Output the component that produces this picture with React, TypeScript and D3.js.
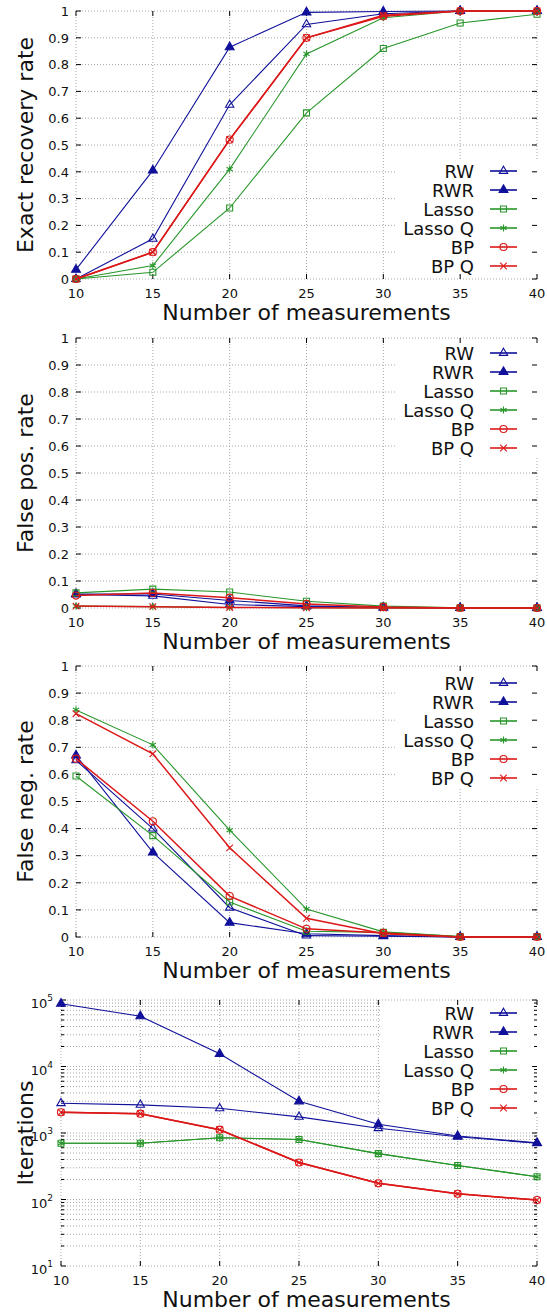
import React from "react";
import * as d3 from "d3";

// x values shared by all four panels
const measurements = [10, 15, 20, 25, 30, 35, 40];
const methodNames = ["RW", "RWR", "Lasso", "Lasso Q", "BP", "BP Q"];

// exact recovery rate
const exactRW = [0.0, 0.15, 0.65, 0.95, 0.99, 1, 1];
const exactRWR = [0.035, 0.405, 0.865, 0.995, 0.998, 1, 1];
const exactLasso = [0.0, 0.025, 0.265, 0.62, 0.86, 0.955, 0.988];
const exactLassoQ = [0.0, 0.05, 0.41, 0.84, 0.975, 1, 1];
const exactBP = [0.0, 0.1, 0.52, 0.9, 0.98, 1, 1];
const exactBPQ = [0.0, 0.1, 0.52, 0.9, 0.984, 1, 1];

// false positive rate
const fpRW = [0.05, 0.045, 0.013, 0.005, 0.002, 0, 0];
const fpRWR = [0.052, 0.052, 0.028, 0.008, 0.002, 0, 0];
const fpLasso = [0.056, 0.07, 0.059, 0.025, 0.007, 0.001, 0];
const fpLassoQ = [0.007, 0.005, 0.002, 0.001, 0, 0, 0];
const fpBP = [0.046, 0.056, 0.038, 0.015, 0.004, 0, 0];
const fpBPQ = [0.007, 0.005, 0.002, 0.001, 0, 0, 0];

// false negative rate
const fnRW = [0.652, 0.4, 0.108, 0.005, 0.003, 0, 0];
const fnRWR = [0.67, 0.312, 0.053, 0.012, 0.005, 0, 0];
const fnLasso = [0.594, 0.374, 0.129, 0.021, 0.017, 0.002, 0.002];
const fnLassoQ = [0.838, 0.709, 0.394, 0.103, 0.019, 0.002, 0.002];
const fnBP = [0.658, 0.427, 0.151, 0.03, 0.015, 0, 0];
const fnBPQ = [0.824, 0.676, 0.329, 0.069, 0.012, 0, 0];

// iterations (log scale)
const itRW = [2800, 2650, 2350, 1750, 1180, 880, 700];
const itRWR = [88000, 57000, 15500, 3000, 1350, 900, 710];
const itLasso = [700, 700, 850, 800, 490, 325, 220];
const itLassoQ = [700, 700, 850, 800, 490, 325, 220];
const itBP = [2050, 1950, 1120, 360, 175, 122, 98];
const itBPQ = [2050, 1950, 1120, 360, 175, 122, 98];

const BLUE = "#10109a";
const GREEN = "#28962a";
const RED = "#dc1818";
const FONT = "DejaVu Sans";

const styles = [
  { color: BLUE, type: d3.symbolTriangle, size: 30, filled: false, width: 1.1 },
  { color: BLUE, type: d3.symbolTriangle, size: 34, filled: true, width: 1.1 },
  { color: GREEN, type: d3.symbolSquare, size: 36, filled: false, width: 1.1 },
  { color: GREEN, type: d3.symbolAsterisk, size: 36, filled: false, width: 1.1 },
  { color: RED, type: d3.symbolCircle, size: 40, filled: false, width: 1.5 },
  { color: RED, type: d3.symbolTimes, size: 30, filled: false, width: 1.5 },
];

const Marker = ({ i, x, y }) => {
  const s = styles[i];
  const d = d3.symbol().type(s.type).size(s.size)();
  return (
    <path
      d={d}
      transform={`translate(${x},${y})`}
      fill={s.filled ? s.color : "none"}
      stroke={s.color}
      strokeWidth={1.1}
    />
  );
};

const Panel = ({ top, bottom, left, right, log, ylabel, series, legendY, legendLeft }) => {
  const xScale = d3.scaleLinear().domain([10, 40]).range([left, right]);
  const yScale = log
    ? d3.scaleLog().domain([10, 1e5]).range([bottom, top])
    : d3.scaleLinear().domain([0, 1]).range([bottom, top]);

  const xTicks = xScale.ticks(6);
  const yTicks = log ? yScale.ticks() : yScale.ticks(10);
  const isMajor = (v) => !log || Math.abs(Math.log10(v) - Math.round(Math.log10(v))) < 1e-9;

  const line = d3
    .line()
    .x((_, i) => xScale(measurements[i]))
    .y((d) => yScale(d));

  return (
    <g fontFamily={FONT}>
      {/* grid */}
      {xTicks.map((t) => (
        <line key={"gx" + t} x1={xScale(t)} x2={xScale(t)} y1={top} y2={bottom}
          stroke="#a8a8a8" strokeDasharray="1,2" />
      ))}
      {yTicks.map((t) => (
        <line key={"gy" + t} x1={left} x2={right} y1={yScale(t)} y2={yScale(t)}
          stroke="#a8a8a8" strokeDasharray="1,2" />
      ))}
      {/* key box hides the grid behind it */}
      <rect x={legendLeft} y={legendY - 12} width={right + 1 - legendLeft} height={5 * 19 + 21} fill="#fff" />
      {/* ticks */}
      {xTicks.map((t) => (
        <g key={"tx" + t} stroke="#000">
          <line x1={xScale(t)} x2={xScale(t)} y1={bottom} y2={bottom - 5} />
          <line x1={xScale(t)} x2={xScale(t)} y1={top} y2={top + 5} />
        </g>
      ))}
      {yTicks.map((t) => {
        const len = isMajor(t) ? 5 : 3;
        return (
          <g key={"ty" + t} stroke="#000">
            <line x1={left} x2={left + len} y1={yScale(t)} y2={yScale(t)} />
            <line x1={right} x2={right - len} y1={yScale(t)} y2={yScale(t)} />
          </g>
        );
      })}
      {/* tick labels */}
      {xTicks.map((t) => (
        <text key={"lx" + t} x={xScale(t)} y={bottom + 19} textAnchor="middle" fontSize={13} fill="#111">
          {t}
        </text>
      ))}
      {yTicks.filter(isMajor).map((t) =>
        log ? (
          <text key={"ly" + t} x={left - 8} y={yScale(t) + 8} textAnchor="end" fontSize={13} fill="#111">
            10
            <tspan dy={-7} fontSize={9}>{Math.round(Math.log10(t))}</tspan>
          </text>
        ) : (
          <text key={"ly" + t} x={left - 7} y={yScale(t) + 4.7} textAnchor="end" fontSize={13} fill="#111">
            {+t.toFixed(1)}
          </text>
        )
      )}
      {/* axis titles */}
      <text x={(76 + 537) / 2} y={bottom + 41} textAnchor="middle" fontSize={22} fill="#111">
        Number of measurements
      </text>
      <text transform={`translate(33,${(top + bottom) / 2}) rotate(-90)`} textAnchor="middle" fontSize={22} fill="#111">
        {ylabel}
      </text>
      {/* series */}
      {series.map((vals, i) => (
        <g key={"s" + i}>
          <path d={line(vals)} fill="none" stroke={styles[i].color} strokeWidth={styles[i].width} />
          {vals.map((v, j) => (
            <Marker key={j} i={i} x={xScale(measurements[j])} y={yScale(v)} />
          ))}
        </g>
      ))}
      {/* legend */}
      {methodNames.map((name, i) => {
        const y = legendY + i * 19;
        return (
          <g key={"lg" + name}>
            <text x={474} y={y + 6.5} textAnchor="end" fontSize={18} fill="#111">{name}</text>
            <line x1={490} x2={517} y1={y} y2={y} stroke={styles[i].color} strokeWidth={1.6} />
            <Marker i={i} x={503.5} y={y} />
          </g>
        );
      })}
    </g>
  );
};

export default function App() {
  return (
    <svg width={547} height={1314} style={{ position: "absolute", left: 0, top: 0, background: "#fff" }}>
      <rect width={547} height={1314} fill="#fff" />
      <Panel top={11} bottom={279} left={76} right={537} log={false} ylabel="Exact recovery rate"
        series={[exactRW, exactRWR, exactLasso, exactLassoQ, exactBP, exactBPQ]} legendY={171} legendLeft={395} />
      <Panel top={338} bottom={608} left={76} right={537} log={false} ylabel="False pos. rate"
        series={[fpRW, fpRWR, fpLasso, fpLassoQ, fpBP, fpBPQ]} legendY={353} legendLeft={395} />
      <Panel top={666} bottom={937} left={76} right={537} log={false} ylabel="False neg. rate"
        series={[fnRW, fnRWR, fnLasso, fnLassoQ, fnBP, fnBPQ]} legendY={683} legendLeft={395} />
      <Panel top={1000} bottom={1266} left={61} right={537} log={true} ylabel="Iterations"
        series={[itRW, itRWR, itLasso, itLassoQ, itBP, itBPQ]} legendY={1013} legendLeft={380} />
    </svg>
  );
}
